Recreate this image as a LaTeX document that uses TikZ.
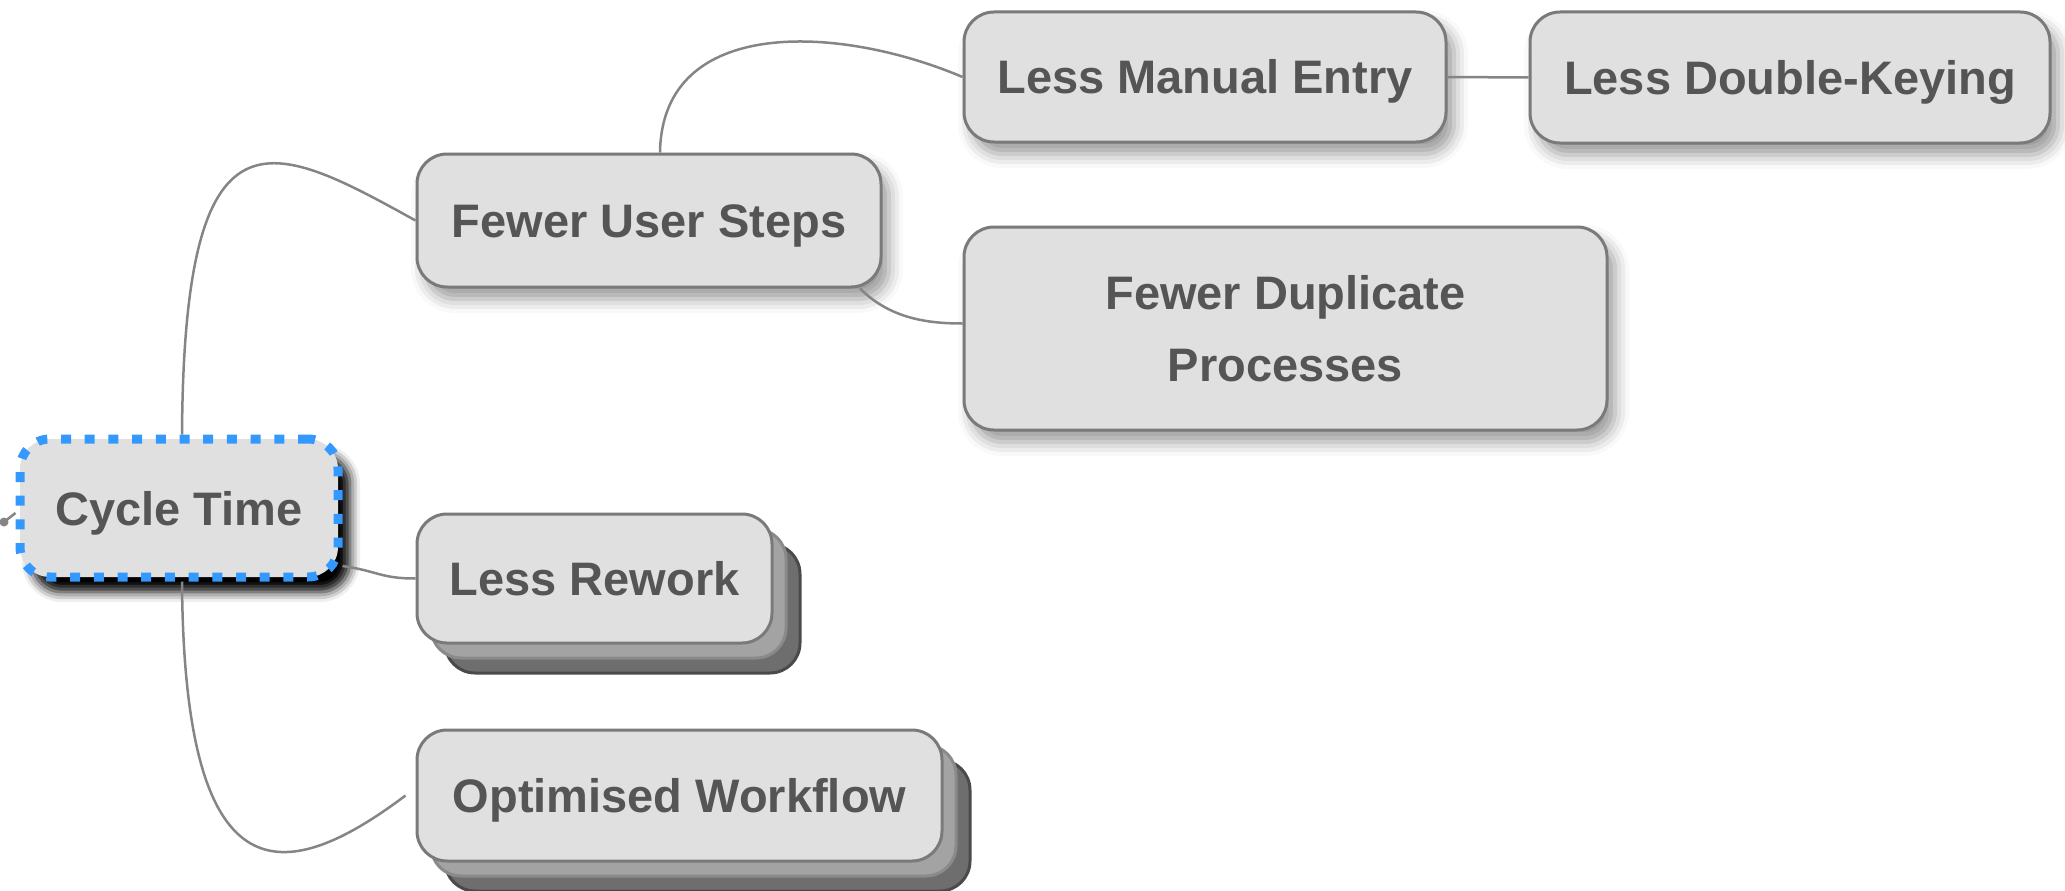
\documentclass[tikz,border=0pt]{standalone}
\usepackage{fontspec}
\setmainfont{Liberation Sans}
\usetikzlibrary{shadows,shadows.blur}
\definecolor{boxfill}{HTML}{E0E0E0}
\definecolor{boxline}{HTML}{7A7A7A}
\definecolor{txt}{HTML}{555555}
\definecolor{connc}{HTML}{858585}
\definecolor{cblue}{HTML}{3399FF}
\definecolor{layerB}{HTML}{A3A3A3}
\definecolor{layerBline}{HTML}{8A8A8A}
\definecolor{layerC}{HTML}{6E6E6E}
\definecolor{layerCline}{HTML}{4A4A4A}
\begin{document}
\begin{tikzpicture}[x=1pt,y=-1pt,
  basebox/.style={rounded corners=30pt, draw=boxline, line width=3pt, fill=boxfill,
    text=txt, font=\fontsize{47}{72}\selectfont\bfseries, inner sep=0pt,
    text height=34pt, text depth=0pt},
  softbox/.style={basebox, blur shadow={shadow xshift=8pt, shadow yshift=-12pt,
    shadow blur radius=14pt, shadow opacity=40}},
  stackbox/.style={basebox,
    copy shadow={shadow xshift=28pt, shadow yshift=-30pt, fill=layerC, draw=layerCline},
    copy shadow={shadow xshift=14pt, shadow yshift=-15pt, fill=layerB, draw=layerBline}},
  cycbox/.style={rounded corners=30pt, draw=cblue, line width=9pt,
    dash pattern=on 10pt off 13.7pt, fill=boxfill,
    text=txt, font=\fontsize{47}{72}\selectfont\bfseries, inner sep=0pt,
    text height=34pt, text depth=0pt,
    blur shadow={shadow xshift=12pt, shadow yshift=-15pt, shadow blur radius=10pt,
    shadow opacity=100}},
  conn/.style={draw=connc, line width=2.5pt}]
\useasboundingbox (0,0) rectangle (2065,891);

\node[cycbox, minimum width=318pt, minimum height=138pt] (cyc) at (179,508) {Cycle Time};
\node[softbox, minimum width=464pt, minimum height=133pt] (fus) at (649,220.5) {Fewer User Steps};
\node[softbox, minimum width=482pt, minimum height=130pt] (lme) at (1205,77) {Less Manual Entry};
\node[softbox, minimum width=520pt, minimum height=131pt] (ldk) at (1790,77.5) {Less Double-Keying};
\node[softbox, align=center, text height=106pt, text depth=0pt, minimum width=643pt, minimum height=203pt] (fdp) at (1285.5,328.5) {Fewer Duplicate\\Processes};
\node[stackbox, minimum width=355pt, minimum height=129pt] (lr) at (594.5,578.5) {Less Rework};
\node[stackbox, minimum width=525pt, minimum height=131pt] (ow) at (679.5,795.5) {Optimised Workflow};

\draw[conn] ([xshift=3pt]cyc.north) .. controls (184,95) and (270,140) .. (fus.west);
\draw[conn] ([xshift=3pt]cyc.south) .. controls (184,895) and (280,890) .. ([xshift=-10pt]ow.west);
\draw[conn] ([yshift=-58pt]cyc.east) .. controls +(35,5) and +(-35,0) .. (lr.west);
\draw[conn] ([xshift=11pt]fus.north) .. controls (662,15) and (840,25) .. (lme.west);
\draw[conn] ([xshift=211pt]fus.south) .. controls +(30,30) and +(-35,0) .. ([yshift=5pt]fdp.west);
\draw[conn] (lme.east) -- (ldk.west);

\coordinate (stub) at (4,522);
\fill[connc] (stub) circle (4.5pt);
\draw[conn] (stub) -- ([yshift=-5pt]cyc.west);
\end{tikzpicture}
\end{document}
